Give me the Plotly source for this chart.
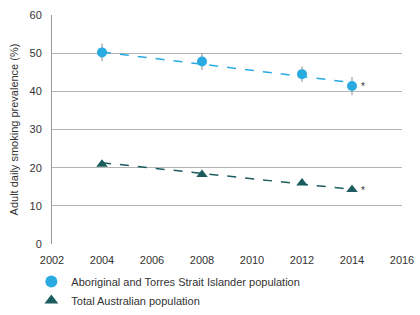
import plotly.graph_objects as go

years = [2004, 2008, 2012, 2014]
aboriginal = [50.2, 47.8, 44.5, 41.4]
aboriginal_err = [2.3, 2.2, 2.0, 2.4]
total = [20.9, 18.2, 16.0, 14.3]
trend_years = [2004, 2014]
aboriginal_trend = [50.3, 42.3]
total_trend = [21.3, 14.3]
x_ticks = [2002, 2004, 2006, 2008, 2010, 2012, 2014, 2016]
y_ticks = [0, 10, 20, 30, 40, 50, 60]

blue = "#29abe2"
teal = "#1b5c5f"
font = "Liberation Sans, Arial, sans-serif"

fig = go.Figure()
fig.add_trace(go.Scatter(x=trend_years, y=aboriginal_trend, mode="lines",
                         line=dict(color=blue, width=1.5, dash="dash"), showlegend=False, hoverinfo="skip"))
fig.add_trace(go.Scatter(x=trend_years, y=total_trend, mode="lines",
                         line=dict(color=teal, width=1.5, dash="dash"), showlegend=False, hoverinfo="skip"))
fig.add_trace(go.Scatter(x=years, y=aboriginal, mode="markers", name="Aboriginal and Torres Strait Islander population",
                         marker=dict(color=blue, size=10, symbol="circle"),
                         error_y=dict(type="data", array=aboriginal_err, color="#888888", thickness=1, width=0)))
fig.add_trace(go.Scatter(x=years, y=total, mode="markers", name="Total Australian population",
                         marker=dict(color=teal, size=10, symbol="triangle-up")))

fig.add_annotation(x=2014, y=aboriginal[-1], text="*", showarrow=False, xshift=11, yshift=-1,
                   font=dict(size=10, color="#333333", family=font))
fig.add_annotation(x=2014, y=total[-1], text="*", showarrow=False, xshift=11, yshift=-1,
                   font=dict(size=10, color="#333333", family=font))

fig.update_layout(
    width=420, height=315,
    margin=dict(l=52, r=18, t=15, b=71, autoexpand=False),
    paper_bgcolor="white", plot_bgcolor="white",
    font=dict(family=font, size=11, color="#333333"),
    showlegend=True,
    legend=dict(x=-0.059, y=-0.1, xanchor="left", yanchor="top", orientation="v",
                font=dict(size=11, color="#333333", family=font), tracegroupgap=0,
                itemsizing="constant", bgcolor="rgba(0,0,0,0)"),
    xaxis=dict(range=[2002, 2016], tickvals=x_ticks, showgrid=False, zeroline=False,
               showline=False, ticks="", ticklabelstandoff=8, ticklabeloverflow="allow",
               tickfont=dict(size=11, color="#333333")),
    yaxis=dict(range=[0, 60], tickvals=y_ticks, showgrid=True, gridcolor="#b4b4b4", gridwidth=1,
               zeroline=False, showline=True, linecolor="#999999", linewidth=1, ticks="",
               ticklabelstandoff=7, tickfont=dict(size=11, color="#333333"),
               title=dict(text="Adult daily smoking prevalence (%)", font=dict(size=11, color="#333333"), standoff=8)),
)

fig.write_html("out.html", config={"displayModeBar": False},
               post_script="document.body.style.margin='0px';")
